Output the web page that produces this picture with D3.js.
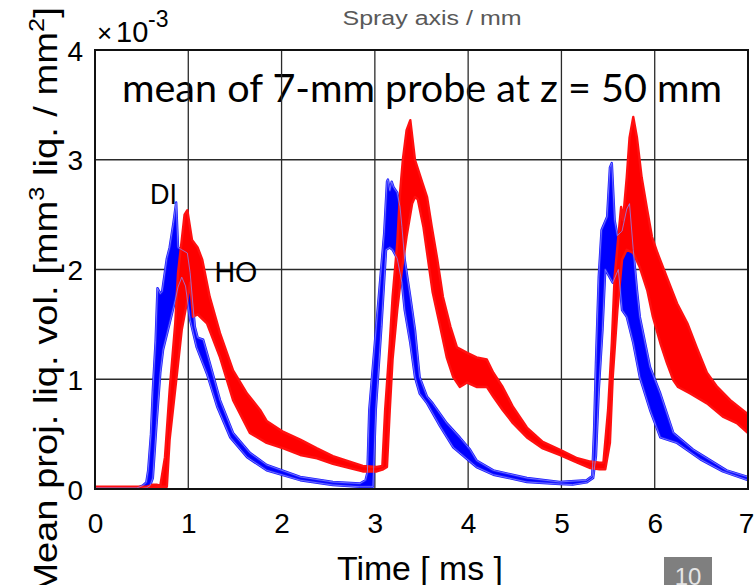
<!DOCTYPE html>
<html>
<head>
<meta charset="utf-8">
<script src="https://cdn.jsdelivr.net/npm/d3@7"></script>
<style>
  html, body { margin: 0; padding: 0; background: #fff; }
  svg { display: block; }
  text { font-family: "Liberation Sans", Arial, sans-serif; }
</style>
</head>
<body>
<svg id="chart" width="754" height="585"></svg>
<script>
// ---------- data (time in ms, value in 1e-3 mm^3/mm^2) ----------
const xTicks = [0, 1, 2, 3, 4, 5, 6, 7];
const yTicks = [0, 1, 2, 3, 4];

// DI (blue) band: upper and lower envelope
const diUpper = [[0,0.01],[0.45,0.01],[0.51,0.03],[0.55,0.06],[0.57,0.17],[0.60,0.5],[0.62,0.9],[0.65,1.35],[0.67,1.83],[0.70,1.78],[0.72,1.8],[0.77,2.10],[0.80,2.20],[0.84,2.42],[0.87,2.61],[0.89,2.2],[0.93,2.18],[0.99,2.15],[1.02,1.97],[1.07,1.48],[1.10,1.38],[1.16,1.36],[1.23,1.15],[1.34,0.81],[1.48,0.51],[1.66,0.33],[1.84,0.22],[2.20,0.11],[2.55,0.064],[2.84,0.05],[2.90,0.08],[2.92,0.15],[2.94,0.72],[3.00,1.33],[3.06,1.93],[3.10,2.33],[3.13,2.80],[3.14,2.82],[3.16,2.72],[3.18,2.80],[3.20,2.75],[3.24,2.70],[3.27,2.57],[3.29,2.39],[3.32,2.09],[3.38,1.75],[3.43,1.45],[3.48,1.02],[3.56,0.84],[3.62,0.78],[3.77,0.60],[3.91,0.47],[4.02,0.36],[4.09,0.26],[4.27,0.17],[4.63,0.10],[4.98,0.064],[5.27,0.08],[5.33,0.12],[5.35,0.54],[5.37,1.15],[5.40,1.93],[5.43,2.36],[5.49,2.48],[5.52,2.93],[5.54,2.97],[5.57,2.45],[5.60,2.31],[5.65,2.35],[5.70,2.55],[5.73,2.6],[5.77,2.18],[5.81,1.81],[5.84,1.57],[5.95,1.11],[6.06,0.87],[6.20,0.51],[6.41,0.36],[6.77,0.17],[7.0,0.11]];
const diLower = [[0,0],[0.45,0],[0.55,0.01],[0.59,0.03],[0.62,0.1],[0.66,0.6],[0.70,1.06],[0.73,1.27],[0.80,1.51],[0.86,1.72],[0.89,1.84],[0.93,1.93],[0.97,1.85],[1.02,1.54],[1.09,1.29],[1.20,1.05],[1.31,0.75],[1.45,0.47],[1.63,0.29],[1.84,0.17],[2.20,0.08],[2.55,0.036],[2.84,0.02],[2.95,0.02],[2.98,0.02],[3.01,0.72],[3.07,1.48],[3.12,2.18],[3.16,2.2],[3.19,2.18],[3.24,2.1],[3.29,1.88],[3.32,1.63],[3.38,1.33],[3.43,1.02],[3.48,0.87],[3.56,0.78],[3.70,0.57],[3.84,0.38],[4.02,0.25],[4.09,0.2],[4.27,0.13],[4.63,0.064],[4.98,0.045],[5.12,0.04],[5.27,0.06],[5.34,0.1],[5.37,0.3],[5.40,0.9],[5.44,1.45],[5.47,2.0],[5.55,1.88],[5.61,2.0],[5.65,1.63],[5.70,1.57],[5.77,1.33],[5.84,1.02],[5.95,0.72],[6.06,0.47],[6.24,0.42],[6.49,0.27],[6.73,0.16],[7.0,0.08]];

// HO (red) band: upper and lower envelope
const hoUpper = [[0,0.02],[0.55,0.02],[0.62,0.04],[0.66,0.04],[0.70,0.03],[0.75,0.29],[0.80,0.9],[0.86,1.51],[0.89,1.97],[0.93,2.27],[0.96,2.5],[0.99,2.54],[1.04,2.27],[1.10,2.2],[1.15,2.09],[1.23,1.75],[1.34,1.42],[1.48,1.08],[1.63,0.87],[1.77,0.72],[1.84,0.62],[2.02,0.52],[2.20,0.45],[2.38,0.37],[2.55,0.30],[2.73,0.25],[2.87,0.21],[3.02,0.2],[3.08,0.21],[3.11,0.72],[3.16,1.33],[3.19,1.75],[3.24,2.24],[3.27,2.7],[3.30,3.0],[3.34,3.27],[3.38,3.36],[3.43,3.0],[3.51,2.79],[3.56,2.66],[3.61,2.39],[3.67,2.09],[3.73,1.75],[3.81,1.48],[3.88,1.29],[3.99,1.24],[4.09,1.2],[4.20,1.18],[4.27,1.06],[4.37,0.93],[4.48,0.75],[4.63,0.56],[4.80,0.43],[4.98,0.36],[5.17,0.28],[5.31,0.25],[5.41,0.24],[5.45,0.24],[5.50,0.72],[5.54,1.33],[5.57,1.93],[5.61,2.3],[5.64,2.57],[5.66,2.45],[5.70,2.84],[5.73,3.2],[5.77,3.39],[5.81,3.2],[5.86,2.84],[5.92,2.54],[5.97,2.3],[6.03,2.15],[6.13,1.93],[6.24,1.69],[6.35,1.51],[6.45,1.29],[6.56,1.06],[6.67,0.93],[6.81,0.81],[7.0,0.68]];
const hoLower = [[0,0],[0.6,0.01],[0.70,0.02],[0.77,0.02],[0.80,0.45],[0.88,1.06],[0.93,1.45],[0.99,1.72],[1.02,1.88],[1.05,1.57],[1.10,1.59],[1.20,1.51],[1.34,1.2],[1.48,0.81],[1.66,0.51],[1.84,0.42],[2.02,0.37],[2.20,0.31],[2.38,0.28],[2.55,0.23],[2.73,0.19],[2.87,0.16],[3.02,0.16],[3.09,0.18],[3.13,0.2],[3.16,0.72],[3.19,1.18],[3.24,1.63],[3.29,2.0],[3.34,2.3],[3.40,2.6],[3.43,2.66],[3.46,2.64],[3.52,2.39],[3.57,2.09],[3.62,1.79],[3.70,1.48],[3.77,1.2],[3.84,1.02],[3.91,0.93],[3.99,0.97],[4.09,0.93],[4.20,0.93],[4.27,0.84],[4.37,0.72],[4.48,0.6],[4.63,0.47],[4.80,0.37],[4.98,0.31],[5.17,0.24],[5.31,0.19],[5.41,0.18],[5.47,0.18],[5.52,0.42],[5.55,1.02],[5.60,1.63],[5.65,2.09],[5.70,2.18],[5.77,2.15],[5.84,2.02],[5.92,1.81],[5.98,1.57],[6.06,1.33],[6.13,1.15],[6.20,0.99],[6.25,0.93],[6.38,0.87],[6.56,0.78],[6.73,0.66],[6.88,0.6],[7.0,0.51]];

const seriesLabels = [["DI", 0.59, 2.6], ["HO", 1.28, 1.89]];

// ---------- drawing ----------
const svg = d3.select("#chart");
const L = 95, R = 748, T = 50, B = 489;
const x = d3.scaleLinear().domain([0, 7]).range([L, R]);
const y = d3.scaleLinear().domain([0, 4]).range([B, T]);

svg.append("defs").append("clipPath").attr("id", "plotclip")
  .append("rect").attr("x", L).attr("y", T).attr("width", R - L).attr("height", B - T);

// header texts
svg.append("text").attr("x", 432).attr("y", 25).attr("text-anchor", "middle")
  .attr("font-size", 20).attr("fill", "#595959")
  .attr("textLength", 179).attr("lengthAdjust", "spacingAndGlyphs")
  .text("Spray axis / mm");

svg.append("text").attr("x", 122).attr("y", 102)
  .style("font-family", "Lato, 'Open Sans', sans-serif")
  .attr("font-size", 39).attr("fill", "#000")
  .attr("textLength", 600).attr("lengthAdjust", "spacingAndGlyphs")
  .text("mean of 7-mm probe at z = 50 mm");

// grid
const grid = svg.append("g").attr("stroke", "#2a2a2a").attr("stroke-width", 1.3);
grid.selectAll("line.v").data(xTicks.slice(1, -1)).join("line")
  .attr("x1", d => x(d)).attr("x2", d => x(d)).attr("y1", T).attr("y2", B);
grid.selectAll("line.h").data(yTicks.slice(1, -1)).join("line")
  .attr("x1", L).attr("x2", R).attr("y1", d => y(d)).attr("y2", d => y(d));

// bands
const line = d3.line().x(d => x(d[0])).y(d => y(d[1]));
const bandPath = (hi, lo) => line(hi.concat(lo.slice().reverse())) + "Z";
const plot = svg.append("g").attr("clip-path", "url(#plotclip)");

plot.append("path").attr("d", bandPath(diUpper, diLower))
  .attr("fill", "#0000ff").attr("stroke", "#1a1aff").attr("stroke-width", 2.4)
  .attr("stroke-linejoin", "round");
plot.append("path").attr("d", bandPath(hoUpper, hoLower))
  .attr("fill", "#ff0000").attr("stroke", "#ff1010").attr("stroke-width", 2.4)
  .attr("stroke-linejoin", "round");
// light blue outline of DI band visible over HO
[diUpper, diLower].forEach(s => {
  plot.append("path").attr("d", line(s)).attr("fill", "none")
    .attr("stroke", "#8a8aff").attr("stroke-width", 0.9).attr("stroke-opacity", 0.85);
});

// axes box
svg.append("rect").attr("x", L).attr("y", T).attr("width", R - L).attr("height", B - T)
  .attr("fill", "none").attr("stroke", "#111").attr("stroke-width", 2);

// axis tick labels via d3 axes
const xAxis = d3.axisBottom(x).tickValues(xTicks).tickSize(0).tickPadding(0).tickFormat(d3.format("d"));
const gx = svg.append("g").attr("transform", `translate(0,${B})`).call(xAxis);
gx.select(".domain").remove();
gx.selectAll("text").attr("font-size", 28).attr("fill", "#000")
  .attr("dy", null).attr("y", 44).style("font-family", "'Liberation Sans', Arial, sans-serif");
gx.selectAll(".tick").filter(d => d === 7).select("text").attr("x", -2);

const yAxis = d3.axisLeft(y).tickValues(yTicks).tickSize(0).tickPadding(12).tickFormat(d3.format("d"));
const gy = svg.append("g").attr("transform", `translate(${L},0)`).call(yAxis);
gy.select(".domain").remove();
gy.selectAll("text").attr("font-size", 28).attr("fill", "#000")
  .attr("dy", "0.36em").style("font-family", "'Liberation Sans', Arial, sans-serif");

// x10^-3 exponent
const ex = svg.append("text").attr("y", 42).attr("fill", "#000");
ex.append("tspan").attr("x", 97).attr("font-size", 26).text("\u00d7");
ex.append("tspan").attr("x", 116).attr("font-size", 29).text("10");
ex.append("tspan").attr("x", 148).attr("font-size", 23).attr("dy", -15).text("-3");

// axis titles
svg.append("text").attr("x", 420).attr("y", 580).attr("text-anchor", "middle")
  .attr("font-size", 34).attr("fill", "#000")
  .attr("textLength", 166).attr("lengthAdjust", "spacingAndGlyphs")
  .text("Time [ ms ]");

const yl = svg.append("text").attr("text-anchor", "middle").attr("font-size", 36).attr("fill", "#000");
yl.append("tspan").text("Mean proj. liq. vol. [mm");
yl.append("tspan").attr("font-size", 24).attr("dy", -14).text("3");
yl.append("tspan").attr("dy", 14).text(" liq. / mm");
yl.append("tspan").attr("font-size", 24).attr("dy", -14).text("2");
yl.append("tspan").attr("dy", 14).text("]");
const ylLen = yl.node().getComputedTextLength();
const ylK = 588 / ylLen;
yl.attr("transform", `translate(57,301) scale(0.9,${ylK}) rotate(-90)`);

// series labels
svg.selectAll("text.lab").data(seriesLabels).join("text")
  .attr("class", "lab")
  .attr("x", d => x(d[1])).attr("y", d => y(d[2]))
  .attr("font-size", 29).attr("fill", "#000")
  .attr("textLength", d => d[0] === "DI" ? 27 : 43).attr("lengthAdjust", "spacingAndGlyphs")
  .text(d => d[0]);

// page number box
svg.append("rect").attr("x", 664).attr("y", 557).attr("width", 48).attr("height", 30).attr("fill", "#7f7f7f");
svg.append("text").attr("x", 688).attr("y", 585).attr("text-anchor", "middle")
  .attr("font-size", 24).attr("fill", "#e6e6e6").text("10");
</script>
</body>
</html>
